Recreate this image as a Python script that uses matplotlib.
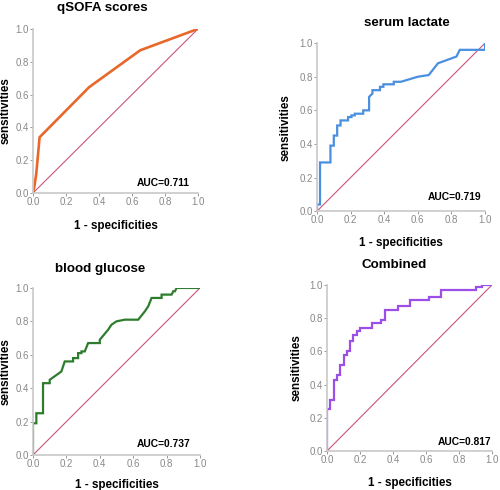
import matplotlib
matplotlib.use("Agg")
import matplotlib.pyplot as plt

plt.rcParams['font.family'] = ['Liberation Sans', 'DejaVu Sans']

# ---- data ----
q_fpr = [0.0, 0.01, 0.02, 0.04, 0.34, 0.65, 1.0]
q_tpr = [0.0, 0.05, 0.12, 0.34, 0.645, 0.87, 1.0]

l_fpr = [0.0, 0.0, 0.018, 0.018, 0.08, 0.08, 0.10, 0.10, 0.12, 0.12, 0.14, 0.14,
         0.185, 0.185, 0.205, 0.205, 0.225, 0.225, 0.275, 0.275, 0.31, 0.31, 0.33, 0.33,
         0.375, 0.375, 0.395, 0.395, 0.457, 0.457, 0.50, 0.60, 0.665, 0.72, 0.83, 0.85,
         1.0, 1.0]
l_tpr = [0.0, 0.04, 0.04, 0.29, 0.29, 0.39, 0.39, 0.45, 0.45, 0.51, 0.51, 0.54,
         0.54, 0.56, 0.56, 0.57, 0.57, 0.58, 0.58, 0.60, 0.60, 0.68, 0.70, 0.72,
         0.72, 0.74, 0.74, 0.755, 0.755, 0.77, 0.77, 0.80, 0.81, 0.88, 0.92, 0.96,
         0.96, 1.0]

g_fpr = [0.0, 0.0, 0.02, 0.02, 0.06, 0.06, 0.10, 0.10, 0.17, 0.19, 0.24, 0.24,
         0.27, 0.27, 0.29, 0.29, 0.31, 0.33, 0.40, 0.40, 0.45, 0.47, 0.50, 0.55,
         0.63, 0.67, 0.69, 0.71, 0.77, 0.77, 0.83, 0.84, 0.85, 0.86, 1.0]
g_tpr = [0.0, 0.19, 0.19, 0.25, 0.25, 0.43, 0.43, 0.45, 0.50, 0.56, 0.56, 0.58,
         0.58, 0.61, 0.61, 0.62, 0.62, 0.67, 0.67, 0.69, 0.75, 0.78, 0.80, 0.81,
         0.81, 0.86, 0.89, 0.94, 0.94, 0.96, 0.96, 0.98, 0.98, 1.0, 1.0]

c_fpr = [0.0, 0.0, 0.02, 0.02, 0.04, 0.04, 0.06, 0.06, 0.08, 0.08, 0.10, 0.10,
         0.12, 0.12, 0.14, 0.14, 0.16, 0.16, 0.18, 0.18, 0.20, 0.20, 0.27, 0.27,
         0.33, 0.33, 0.35, 0.35, 0.43, 0.43, 0.50, 0.50, 0.62, 0.62, 0.69, 0.69,
         0.90, 0.90, 0.94, 0.94, 1.0]
c_tpr = [0.0, 0.25, 0.25, 0.31, 0.31, 0.43, 0.43, 0.46, 0.46, 0.52, 0.52, 0.58,
         0.58, 0.60, 0.60, 0.66, 0.66, 0.70, 0.70, 0.72, 0.72, 0.74, 0.74, 0.77,
         0.77, 0.79, 0.79, 0.85, 0.85, 0.87, 0.87, 0.91, 0.91, 0.93, 0.93, 0.97,
         0.97, 0.99, 0.99, 1.0, 1.0]

titles = ["qSOFA scores", "serum lactate", "blood glucose", "Combined"]
aucs = ["AUC=0.711", "AUC=0.719", "AUC=0.737", "AUC=0.817"]
ticks = [0.0, 0.2, 0.4, 0.6, 0.8, 1.0]
tick_labels = ["0.0", "0.2", "0.4", "0.6", "0.8", "1.0"]

curves = [(q_fpr, q_tpr), (l_fpr, l_tpr), (g_fpr, g_tpr), (c_fpr, c_tpr)]
colors = ["#e8682c", "#4a8fe0", "#2e7d2e", "#9b4fe6"]
lws = [1.9, 1.6, 1.6, 1.6]

rects = [
    [0.066, 0.606, 0.330, 0.335],
    [0.634, 0.569, 0.336, 0.343],
    [0.066, 0.0714, 0.334, 0.341],
    [0.654, 0.0796, 0.330, 0.339],
]
title_pos = [(0.42, 1.128), (0.536, 1.119), (0.40, 1.114), (0.406, 1.12)]
auc_pos = [(0.95, 0.06), (0.976, 0.083), (0.946, 0.066), (0.994, 0.054)]
ylab_x = [-0.13, -0.149, -0.13, -0.15]
xlab_y = [-0.165, -0.155, -0.144, -0.157]

fig = plt.figure(figsize=(5.0, 4.9), dpi=100)
for i in range(4):
    ax = fig.add_axes(rects[i])
    ax.plot([0, 1], [0, 1], color="#c8557a", lw=0.8, zorder=1)
    fx, ty = curves[i]
    ax.plot(fx, ty, color=colors[i], lw=lws[i], zorder=2, solid_joinstyle='miter')
    ax.set_xlim(0, 1)
    ax.set_ylim(0, 1)
    ax.set_xticks(ticks)
    ax.set_xticklabels(tick_labels)
    ax.set_yticks(ticks)
    ax.set_yticklabels(tick_labels)
    ax.tick_params(axis='both', labelsize=7, colors="#888888", length=2, width=0.6, pad=1)
    for s in ['top', 'right']:
        ax.spines[s].set_visible(False)
    for s in ['left', 'bottom']:
        ax.spines[s].set_color("#c8c8c8")
        ax.spines[s].set_linewidth(1.2)
    ax.set_xlabel("1 - specificities", fontsize=8.4, fontweight='bold')
    ax.set_ylabel("sensitivities", fontsize=8.4, fontweight='bold')
    ax.yaxis.set_label_coords(ylab_x[i], 0.5)
    ax.xaxis.set_label_coords(0.5, xlab_y[i])
    ax.text(title_pos[i][0], title_pos[i][1], titles[i], transform=ax.transAxes,
            ha='center', va='center', fontsize=9.6, fontweight='bold')
    ax.text(auc_pos[i][0], auc_pos[i][1], aucs[i], transform=ax.transAxes,
            ha='right', va='center', fontsize=7.4, fontweight='bold')
    ax.patch.set_alpha(0)

fig.savefig("out.png", dpi=100)
